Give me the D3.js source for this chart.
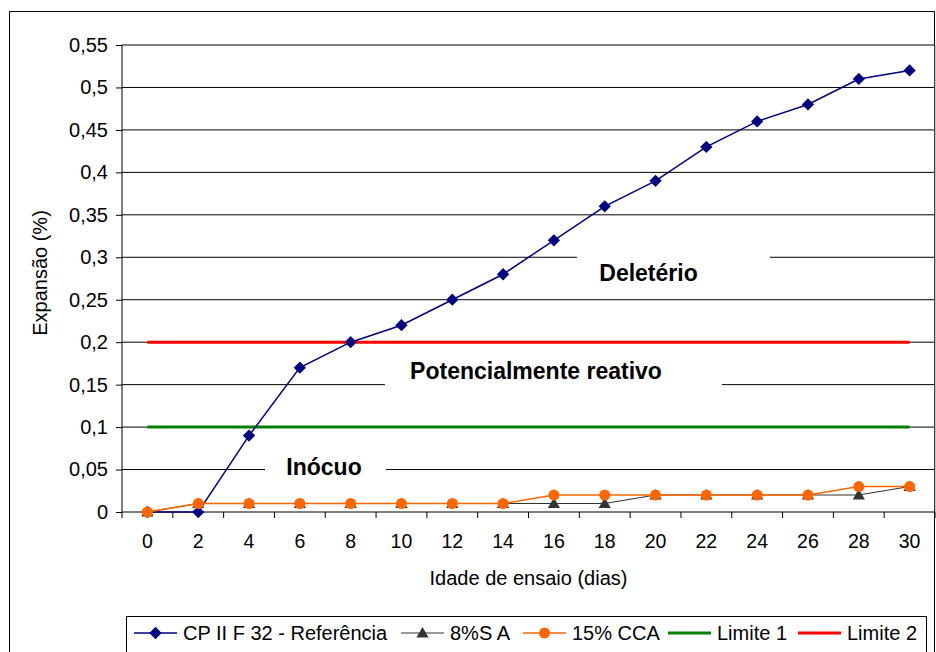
<!DOCTYPE html>
<html>
<head>
<meta charset="utf-8">
<script src="https://cdn.jsdelivr.net/npm/d3@7"></script>
<style>
  html, body { margin: 0; padding: 0; background: #fff; }
  svg { display: block; }
  text { font-family: "Liberation Sans", Arial, sans-serif; fill: #000; }
</style>
</head>
<body>
<svg id="chart" width="936" height="652"></svg>
<script>
// ---- data ----
const dias = ["0","2","4","6","8","10","12","14","16","18","20","22","24","26","28","30"];
const cpIIF32 = [0, 0, 0.09, 0.17, 0.20, 0.22, 0.25, 0.28, 0.32, 0.36, 0.39, 0.43, 0.46, 0.48, 0.51, 0.52];
const sa8     = [0, 0.01, 0.01, 0.01, 0.01, 0.01, 0.01, 0.01, 0.01, 0.01, 0.02, 0.02, 0.02, 0.02, 0.02, 0.03];
const cca15   = [0, 0.01, 0.01, 0.01, 0.01, 0.01, 0.01, 0.01, 0.02, 0.02, 0.02, 0.02, 0.02, 0.02, 0.03, 0.03];
const limite1 = [0.1, 0.1, 0.1, 0.1, 0.1, 0.1, 0.1, 0.1, 0.1, 0.1, 0.1, 0.1, 0.1, 0.1, 0.1, 0.1];
const limite2 = [0.2, 0.2, 0.2, 0.2, 0.2, 0.2, 0.2, 0.2, 0.2, 0.2, 0.2, 0.2, 0.2, 0.2, 0.2, 0.2];
const yTicks  = [0, 0.05, 0.1, 0.15, 0.2, 0.25, 0.3, 0.35, 0.4, 0.45, 0.5, 0.55];
const seriesNames = ["CP II F 32 - Referência", "8%S A", "15% CCA", "Limite 1", "Limite 2"];
const zoneLabels = ["Deletério", "Potencialmente reativo", "Inócuo"];
const xTitle = "Idade de ensaio (dias)";
const yTitle = "Expansão (%)";

// ---- layout ----
const svg = d3.select("#chart");
const L = 122, R = 935, T = 45, B = 512;
const x = d3.scaleBand().domain(dias).range([L, R]);
const y = d3.scaleLinear().domain([0, 0.55]).range([B, T]);
const cx = d => x(d) + x.bandwidth() / 2;
const fmt = v => String(v).replace(".", ",");

// outer chart border
svg.append("rect").attr("x", 9.5).attr("y", 11.5).attr("width", 925).attr("height", 700)
  .attr("fill", "none").attr("stroke", "#000").attr("stroke-width", 1);

// gridlines
svg.append("g").selectAll("line").data(yTicks.filter(v => v > 0)).join("line")
  .attr("x1", L).attr("x2", R).attr("y1", d => y(d)).attr("y2", d => y(d))
  .attr("stroke", "#000").attr("stroke-width", 1);

// right plot border
svg.append("line").attr("x1", R).attr("x2", R).attr("y1", T).attr("y2", B)
  .attr("stroke", "#808080").attr("stroke-width", 1);

// y axis
const yAxis = svg.append("g").attr("transform", `translate(${L},0)`)
  .call(d3.axisLeft(y).tickValues(yTicks).tickSize(6).tickPadding(8).tickFormat(fmt));
yAxis.select(".domain").attr("stroke", "#000").attr("d", `M0,${T}V${B}`);
yAxis.selectAll(".tick line").attr("stroke", "#000");
yAxis.selectAll(".tick text").attr("font-size", 20).attr("font-family", "Liberation Sans, Arial, sans-serif").attr("fill", "#000");

// x axis (category axis with ticks between categories)
const xg = svg.append("g");
xg.append("line").attr("x1", L).attr("x2", R).attr("y1", B).attr("y2", B).attr("stroke", "#000");
xg.selectAll("line.tk").data(dias.map(d => x(d)).concat([x.range()[1]])).join("line").attr("class", "tk")
  .attr("x1", d => d).attr("x2", d => d).attr("y1", B).attr("y2", B + 6).attr("stroke", "#000");
xg.selectAll("text").data(dias).join("text")
  .attr("x", d => cx(d)).attr("y", B + 36).attr("text-anchor", "middle").attr("font-size", 19.5)
  .text(d => d);

// axis titles
svg.append("text").attr("x", (L + R) / 2).attr("y", B + 73).attr("text-anchor", "middle")
  .attr("font-size", 20).text(xTitle);
svg.append("text").attr("transform", `translate(47,273) rotate(-90)`)
  .attr("text-anchor", "middle").attr("font-size", 20).text(yTitle);

// zone labels with white boxes (text boxes)
const zones = [
  { t: zoneLabels[0], v: 0.2815, x0: 577, x1: 770, h: 44 },
  { t: zoneLabels[1], v: 0.167, x0: 385, x1: 722, h: 44 },
  { t: zoneLabels[2], v: 0.054, x0: 265, x1: 386, h: 40 }
];
const zg = svg.append("g");
zones.forEach(z => {
  zg.append("rect").attr("x", z.x0).attr("width", z.x1 - z.x0)
    .attr("y", y(z.v) - z.h / 2).attr("height", z.h).attr("fill", "#fff");
});

// series
const lineGen = d3.line().x((d, i) => cx(dias[i])).y(d => y(d));
const plot = svg.append("g");
plot.append("path").datum(limite1).attr("d", lineGen).attr("fill", "none").attr("stroke", "#008000").attr("stroke-width", 3);
plot.append("path").datum(limite2).attr("d", lineGen).attr("fill", "none").attr("stroke", "#FF0000").attr("stroke-width", 3);

// zone text
zones.forEach((z, i) => {
  zg.append("text").attr("x", [648.5, 536, 324][i]).attr("y", y(z.v) + 8.5)
    .attr("text-anchor", "middle").attr("font-size", 23).attr("font-weight", "bold").text(z.t);
});
zg.raise();
plot.raise();

const diamond = d3.symbol().type(d3.symbolDiamond2).size(96);
const tri = d3.symbol().type(d3.symbolTriangle).size(64);

plot.append("path").datum(cpIIF32).attr("d", lineGen).attr("fill", "none").attr("stroke", "#000080").attr("stroke-width", 1.5);
plot.append("g").selectAll("path").data(cpIIF32).join("path")
  .attr("transform", (d, i) => `translate(${cx(dias[i])},${y(d)})`).attr("d", diamond).attr("fill", "#000080");

plot.append("path").datum(sa8).attr("d", lineGen).attr("fill", "none").attr("stroke", "#333333").attr("stroke-width", 1.2);
plot.append("g").selectAll("path").data(sa8).join("path")
  .attr("transform", (d, i) => `translate(${cx(dias[i])},${y(d) + 1})`).attr("d", tri).attr("fill", "#333333");

plot.append("path").datum(cca15).attr("d", lineGen).attr("fill", "none").attr("stroke", "#FF6600").attr("stroke-width", 1.5);
plot.append("g").selectAll("circle").data(cca15).join("circle")
  .attr("cx", (d, i) => cx(dias[i])).attr("cy", d => y(d)).attr("r", 5.5).attr("fill", "#FF6600");

// legend
const lg = svg.append("g");
lg.append("rect").attr("x", 126.5).attr("y", 616.5).attr("width", 800).attr("height", 60)
  .attr("fill", "#fff").attr("stroke", "#000").attr("stroke-width", 1);
const legStyles = [
  { c: "#000080", w: 1.5, m: "diamond" },
  { c: "#333333", w: 1.2, m: "tri" },
  { c: "#FF6600", w: 1.5, m: "circle" },
  { c: "#008000", w: 3, m: null },
  { c: "#FF0000", w: 3, m: null }
];
const starts = [134, 401, 523, 668, 798];
const ly = 633;
seriesNames.forEach((name, i) => {
  const s = legStyles[i], x0 = starts[i];
  lg.append("line").attr("x1", x0).attr("x2", x0 + 43).attr("y1", ly).attr("y2", ly)
    .attr("stroke", s.c).attr("stroke-width", s.w);
  const mx = x0 + 21.5;
  if (s.m === "diamond") lg.append("path").attr("transform", `translate(${mx},${ly})`).attr("d", diamond).attr("fill", s.c);
  if (s.m === "tri") lg.append("path").attr("transform", `translate(${mx},${ly + 1})`).attr("d", tri).attr("fill", s.c);
  if (s.m === "circle") lg.append("circle").attr("cx", mx).attr("cy", ly).attr("r", 5.5).attr("fill", s.c);
  lg.append("text").attr("x", x0 + 49).attr("y", ly + 7).attr("font-size", 20).text(name);
});
</script>
</body>
</html>
